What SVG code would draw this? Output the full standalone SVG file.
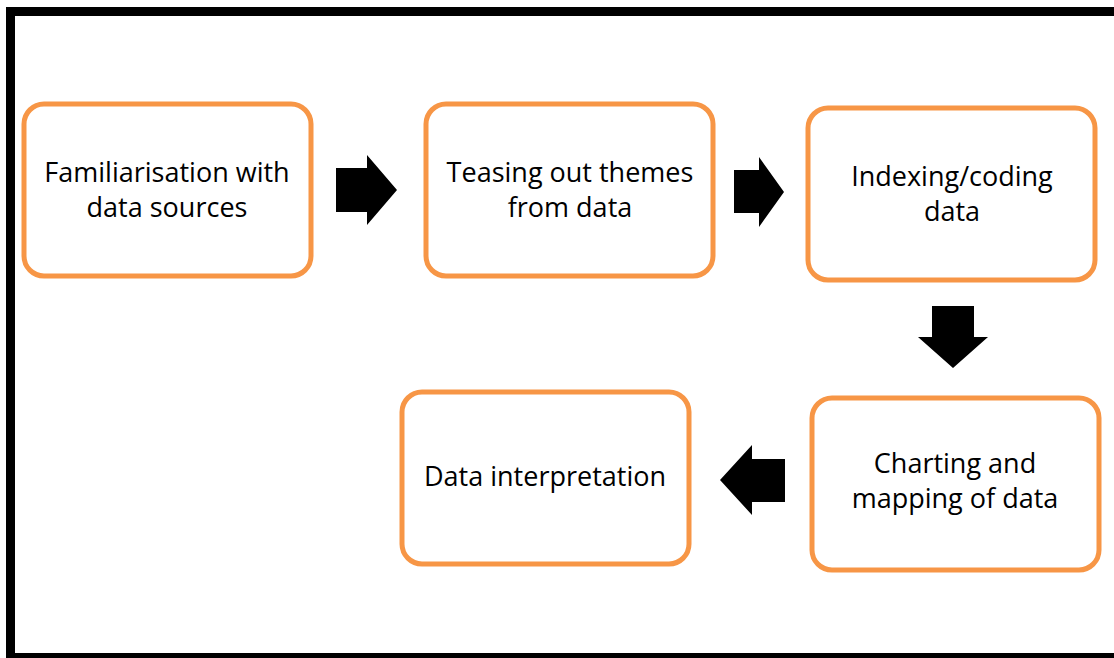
<svg xmlns="http://www.w3.org/2000/svg" width="1114" height="658" viewBox="0 0 1114 658">
<style>
.box{fill:#fff;stroke:#F79646;stroke-width:5}
.lbl{font-family:"Open Sans","Liberation Sans",sans-serif;font-size:27px;fill:#000;text-anchor:middle}
.arr{fill:#000}
</style>
<rect width="1114" height="658" fill="#fff"/>
<path d="M1114 11.5 H10.5 V657.5 H1114" fill="none" stroke="#000" stroke-width="9"/>
<g id="n1"><rect class="box" x="24" y="104" width="287" height="172" rx="20"/><text class="lbl" x="167" y="182">Familiarisation with</text><text class="lbl" x="167" y="217">data sources</text></g>
<g id="n2"><rect class="box" x="426" y="104" width="287" height="172" rx="20"/><text class="lbl" x="570" y="182">Teasing out themes</text><text class="lbl" x="570" y="217">from data</text></g>
<g id="n3"><rect class="box" x="808" y="108" width="287" height="172" rx="20"/><text class="lbl" x="952" y="186">Indexing/coding</text><text class="lbl" x="952" y="221">data</text></g>
<g id="n4"><rect class="box" x="812" y="398" width="287" height="172" rx="20"/><text class="lbl" x="955" y="473">Charting and</text><text class="lbl" x="955" y="508">mapping of data</text></g>
<g id="n5"><rect class="box" x="402" y="392" width="287" height="172" rx="20"/><text class="lbl" x="545" y="486">Data interpretation</text></g>
<g id="connectors">
<polygon class="arr" points="336,168 367,168 367,155 397,190 367,225 367,212 336,212"/>
<polygon class="arr" points="734,170 759,170 759,157 784,192 759,227 759,213 734,213"/>
<polygon class="arr" points="932,306 974,306 974,337 988,337 953,368 918,337 932,337"/>
<polygon class="arr" points="785,459 752,459 752,445 720,480 752,515 752,502 785,502"/>
</g>
</svg>
